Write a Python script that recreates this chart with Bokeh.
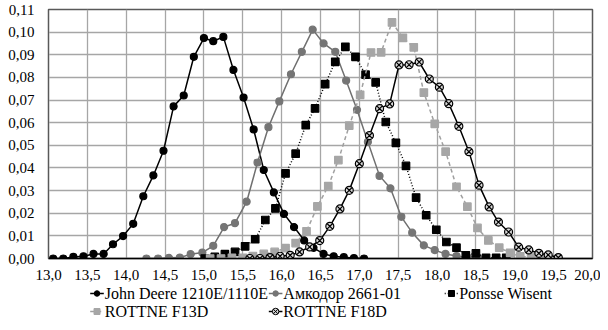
from bokeh.plotting import figure
from bokeh.layouts import column
from bokeh.models import CustomJSTickFormatter, FixedTicker, Range1d
from bokeh.core.properties import value
from bokeh.embed import file_html
from bokeh.resources import INLINE

# ---- data ----
jd_x = [13.06, 13.19, 13.32, 13.45, 13.58, 13.71, 13.83, 13.96, 14.09, 14.22, 14.35, 14.48,
        14.61, 14.74, 14.87, 15.00, 15.12, 15.25, 15.38, 15.51, 15.64, 15.77, 15.90, 16.03,
        16.16, 16.29, 16.41, 16.54, 16.67, 16.80, 16.93, 17.06]
jd_y = [0.0000, 0.0000, 0.0007, 0.0010, 0.0020, 0.0020, 0.0063, 0.0099, 0.0153, 0.0275, 0.0367, 0.0476,
        0.0672, 0.0720, 0.0891, 0.0974, 0.0960, 0.0979, 0.0833, 0.0711, 0.0570, 0.0391, 0.0292, 0.0197,
        0.0139, 0.0080, 0.0047, 0.0020, 0.0010, 0.0006, 0.0002, 0.0000]

am_x = [14.26, 14.41, 14.55, 14.69, 14.83, 14.98, 15.12, 15.26, 15.40, 15.55, 15.69, 15.83,
        15.97, 16.12, 16.26, 16.40, 16.54, 16.69, 16.83, 16.97, 17.11, 17.26, 17.40, 17.54,
        17.68, 17.83, 17.97, 18.11, 18.25, 18.40, 18.54]
am_y = [0.0000, 0.0000, 0.0003, 0.0004, 0.0019, 0.0026, 0.0056, 0.0139, 0.0156, 0.0251, 0.0424, 0.0580,
        0.0694, 0.0814, 0.0913, 0.1011, 0.0950, 0.0913, 0.0786, 0.0657, 0.0515, 0.0365, 0.0310, 0.0184,
        0.0114, 0.0058, 0.0037, 0.0020, 0.0011, 0.0004, 0.0000]

po_x = [15.01, 15.14, 15.27, 15.40, 15.53, 15.66, 15.79, 15.92, 16.05, 16.18, 16.31, 16.43,
        16.56, 16.69, 16.82, 16.95, 17.08, 17.21, 17.34, 17.47, 17.60, 17.73, 17.86, 17.99,
        18.12, 18.25, 18.37, 18.50, 18.63, 18.76, 18.89]
po_y = [0.0000, 0.0007, 0.0019, 0.0029, 0.0054, 0.0085, 0.0170, 0.0221, 0.0376, 0.0463, 0.0589, 0.0663,
        0.0770, 0.0869, 0.0935, 0.0891, 0.0812, 0.0778, 0.0603, 0.0511, 0.0409, 0.0269, 0.0191, 0.0127,
        0.0073, 0.0048, 0.0014, 0.0023, 0.0003, 0.0003, 0.0003]

f13_x = [15.08, 15.22, 15.36, 15.50, 15.63, 15.77, 15.91, 16.05, 16.18, 16.32, 16.46, 16.60,
         16.73, 16.87, 17.01, 17.15, 17.28, 17.42, 17.56, 17.70, 17.83, 17.97, 18.11, 18.25,
         18.39, 18.52, 18.66, 18.80, 18.94, 19.07, 19.21, 19.35]
f13_y = [0.0000, 0.0000, 0.0003, 0.0003, 0.0011, 0.0020, 0.0029, 0.0046, 0.0068, 0.0120, 0.0230, 0.0320,
         0.0435, 0.0587, 0.0723, 0.0910, 0.0911, 0.1043, 0.0975, 0.0933, 0.0733, 0.0595, 0.0472, 0.0317,
         0.0229, 0.0135, 0.0080, 0.0048, 0.0025, 0.0009, 0.0007, 0.0000]

f18_x = [15.59, 15.72, 15.85, 15.98, 16.11, 16.23, 16.36, 16.49, 16.62, 16.75, 16.87, 17.00,
         17.13, 17.26, 17.39, 17.51, 17.64, 17.77, 17.90, 18.03, 18.15, 18.28, 18.41, 18.54,
         18.67, 18.79, 18.92, 19.05, 19.18, 19.31, 19.43, 19.56]
f18_y = [0.0000, 0.0000, 0.0004, 0.0010, 0.0014, 0.0029, 0.0051, 0.0079, 0.0142, 0.0219, 0.0301, 0.0419,
         0.0543, 0.0662, 0.0683, 0.0855, 0.0856, 0.0868, 0.0793, 0.0757, 0.0684, 0.0584, 0.0472, 0.0324,
         0.0228, 0.0161, 0.0117, 0.0050, 0.0038, 0.0023, 0.0016, 0.0004]

names = ["John Deere 1210E/1110E", "Амкодор 2661-01", "Ponsse Wisent", "ROTTNE F13D", "ROTTNE F18D"]
x_ticks = [13.0, 13.5, 14.0, 14.5, 15.0, 15.5, 16.0, 16.5, 17.0, 17.5, 18.0, 18.5, 19.0, 19.5, 20.0]
y_ticks = [0.00, 0.01, 0.02, 0.03, 0.04, 0.05, 0.06, 0.07, 0.08, 0.09, 0.10, 0.11]

FONT = "Liberation Serif"

styles = [
    dict(lc="black", dash="solid", marker="circle", size=7, fill="black", mlc="black"),
    dict(lc="#707070", dash="solid", marker="circle", size=7, fill="#757575", mlc="#757575"),
    dict(lc="black", dash="1 2", marker="square", size=7.5, fill="black", mlc="black"),
    dict(lc="#a0a0a0", dash="4 3", marker="square", size=7.5, fill="#a6a6a6", mlc="#a6a6a6"),
    dict(lc="black", dash="solid", marker="circle_x", size=8, fill="#d9d9d9", mlc="black"),
]
series = [(jd_x, jd_y), (am_x, am_y), (po_x, po_y), (f13_x, f13_y), (f18_x, f18_y)]

# ---- main chart ----
p = figure(width=600, height=282, output_backend="svg", toolbar_location=None,
           x_range=Range1d(13.0, 20.0), y_range=Range1d(0.0, 0.11),
           min_border_left=48, min_border_right=8, min_border_top=9, min_border_bottom=22)
p.background_fill_color = "white"
p.border_fill_color = "white"
p.outline_line_color = "#595959"
p.outline_line_width = 1.5

for ax in (p.xaxis[0], p.yaxis[0]):
    ax.major_tick_line_color = None
    ax.minor_tick_line_color = None
    ax.major_label_text_font = FONT
    ax.major_label_text_font_size = "15px"
    ax.major_label_text_color = "black"
p.xaxis[0].ticker = FixedTicker(ticks=x_ticks)
p.yaxis[0].ticker = FixedTicker(ticks=y_ticks)
p.xaxis[0].formatter = CustomJSTickFormatter(code="return tick.toFixed(1).replace('.', ',');")
p.yaxis[0].formatter = CustomJSTickFormatter(code="return tick.toFixed(2).replace('.', ',');")
p.xaxis[0].axis_line_color = "black"
p.xaxis[0].axis_line_width = 1.5
p.yaxis[0].axis_line_color = "#595959"
p.xaxis[0].major_label_standoff = 5
p.yaxis[0].major_label_standoff = 8

p.xgrid.ticker = FixedTicker(ticks=x_ticks)
p.ygrid.ticker = FixedTicker(ticks=y_ticks)
p.grid.grid_line_color = "#a6a6a6"
p.grid.grid_line_width = 1.3

for (xs, ys), st in zip(series, styles):
    p.line(xs, ys, line_color=st["lc"], line_width=1.5, line_dash=st["dash"])
    p.scatter(xs, ys, marker=st["marker"], size=st["size"], fill_color=st["fill"],
              line_color=st["mlc"], line_width=1.2)

# ---- legend strip below (pixel-unit figure; layout positions only) ----
LW, LH = 600, 40
lf = figure(width=LW, height=LH, output_backend="svg", toolbar_location=None,
            x_axis_type=None, y_axis_type=None,
            x_range=Range1d(0, LW), y_range=Range1d(LH, 0), min_border=0)
lf.outline_line_color = None
lf.xgrid.visible = False
lf.ygrid.visible = False
lf.border_fill_color = "white"
lf.background_fill_color = "white"

leg_left = [46, 243, 437, 46, 243]
leg_mid = [11, 11, 11, 29, 29]
KEY = 15
for name, st, x0, ym in zip(names, styles, leg_left, leg_mid):
    lf.segment(x0=[x0], y0=[ym], x1=[x0 + KEY], y1=[ym], line_color=st["lc"],
               line_width=1.5, line_dash=st["dash"])
    lf.scatter([x0 + KEY / 2], [ym], marker=st["marker"], size=st["size"] - 1.5,
               fill_color=st["fill"], line_color=st["mlc"], line_width=1.0)
    lf.text([x0 + KEY + 1], [ym], text=[name], text_font=value(FONT),
            text_font_size="16px", text_color="black", text_baseline="middle",
            text_align="left")

layout = column(p, lf, spacing=0)
open("out.html", "w").write(file_html(layout, INLINE))
